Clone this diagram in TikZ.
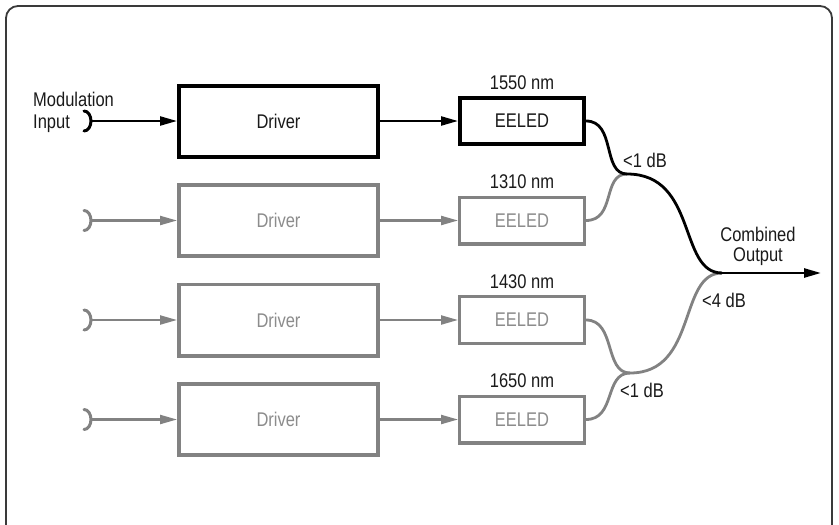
\documentclass[tikz,border=0pt]{standalone}
\usepackage{fontspec}
\setmainfont{Liberation Sans}
\usepackage{graphicx}
\usetikzlibrary{arrows.meta}
\newcommand{\tx}[1]{\scalebox{1}[1.2]{#1}}
\definecolor{gline}{HTML}{828282}
\definecolor{gtext}{HTML}{8C8C8C}
\definecolor{ktext}{HTML}{1A1A1A}
\definecolor{frame}{HTML}{3A3A3A}
\begin{document}
\begin{tikzpicture}[x=1pt,y=-1pt,
  every node/.style={font=\fontsize{16.5}{20}\selectfont, inner sep=0pt, text=ktext},
  drvK/.style={draw=black, line width=4pt, minimum width=199pt, minimum height=71pt},
  drvG/.style={draw=gline, line width=3.6pt, minimum width=199.4pt, minimum height=71.4pt, text=gtext},
  ledK/.style={draw=black, line width=3.6pt, minimum width=124.4pt, minimum height=46.4pt},
  ledG/.style={draw=gline, line width=3.4pt, minimum width=124.6pt, minimum height=46.6pt, text=gtext},
  arrK/.style={draw=black, line width=2.3pt, -{Triangle[length=17pt,width=9pt]}},
  arrG/.style={draw=gline, line width=2.2pt, -{Triangle[length=17pt,width=9pt]}},
  fibK/.style={draw=black, line width=2.8pt},
  fibG/.style={draw=gline, line width=2.8pt},
  brK/.style={draw=black, line width=3pt, line cap=round},
  brG/.style={draw=gline, line width=3pt, line cap=round},
  lbl/.style={anchor=base west},
  lblc/.style={anchor=base}
]
\useasboundingbox (0,0) rectangle (839,525);
\fill[white] (0,0) rectangle (839,525);
\clip (0,0) rectangle (839,525);
\draw[frame, line width=1.8pt, rounded corners=12pt] (6,6) rectangle (832,545);

% drivers
\node[drvK] (d1) at (278.5,121) {\tx{Driver}};
\node[drvG] (d2) at (278.5,220.5) {\tx{Driver}};
\node[drvG] (d3) at (278.5,320) {\tx{Driver}};
\node[drvG] (d4) at (278.5,419.5) {\tx{Driver}};

% EELEDs
\node[ledK] (e1) at (522,121) {\tx{EELED}};
\node[ledG] (e2) at (522,220.5) {\tx{EELED}};
\node[ledG] (e3) at (522,320) {\tx{EELED}};
\node[ledG] (e4) at (522,419.5) {\tx{EELED}};

% wavelengths
\node[lblc] (w1) at (522,89) {\tx{1550 nm}};
\node[lblc] (w2) at (522,188) {\tx{1310 nm}};
\node[lblc] (w3) at (522,288) {\tx{1430 nm}};
\node[lblc] (w4) at (522,387) {\tx{1650 nm}};

% inputs
\node[lbl] (mod) at (33,106) {\tx{Modulation}};
\node[lbl] (inp) at (33,128) {\tx{Input}};
\coordinate (i1) at (91,121);
\coordinate (i2) at (91,220.5);
\coordinate (i3) at (91,320);
\coordinate (i4) at (91,419.5);
\draw[brK] (84,111) arc[start angle=-90, end angle=90, x radius=7, y radius=10];
\draw[brG] (84,210.5) arc[start angle=-90, end angle=90, x radius=7, y radius=10];
\draw[brG] (84,310) arc[start angle=-90, end angle=90, x radius=7, y radius=10];
\draw[brG] (84,409.5) arc[start angle=-90, end angle=90, x radius=7, y radius=10];

\draw[arrK] (i1) -- (d1.west);
\draw[arrG] (i2) -- (d2.west);
\draw[arrG] (i3) -- (d3.west);
\draw[arrG] (i4) -- (d4.west);

\draw[arrK] (d1.east) -- (e1.west);
\draw[arrG] (d2.east) -- (e2.west);
\draw[arrG] (d3.east) -- (e3.west);
\draw[arrG] (d4.east) -- (e4.west);

% couplers
\coordinate (m1) at (627,174);
\coordinate (m2) at (630,373);
\coordinate (j) at (722,273);
\coordinate (out) at (821,273);

\draw[fibG] (e2.east) .. controls (616,220.5) and (602,174) .. (m1);
\draw[fibG] (e3.east) .. controls (616,320) and (604,373) .. (m2);
\draw[fibG] (e4.east) .. controls (616,419.5) and (604,373) .. (m2);
\draw[fibG] (m2) .. controls (698,373) and (678,273) .. (j);
\draw[fibK] (e1.east) .. controls (616,121) and (602,174) .. (m1);
\draw[fibK] (m1) .. controls (698,174) and (678,273) .. (j);
\draw[arrK, line width=2.6pt] (j) -- (out);

% losses
\node[lbl] (l1) at (623,167) {\tx{<1 dB}};
\node[lbl] (l4) at (702,307) {\tx{<4 dB}};
\node[lbl] (l2) at (620,397) {\tx{<1 dB}};
\node[lblc] (c1) at (758,241) {\tx{Combined}};
\node[lblc] (c2) at (758,261) {\tx{Output}};
\end{tikzpicture}
\end{document}
